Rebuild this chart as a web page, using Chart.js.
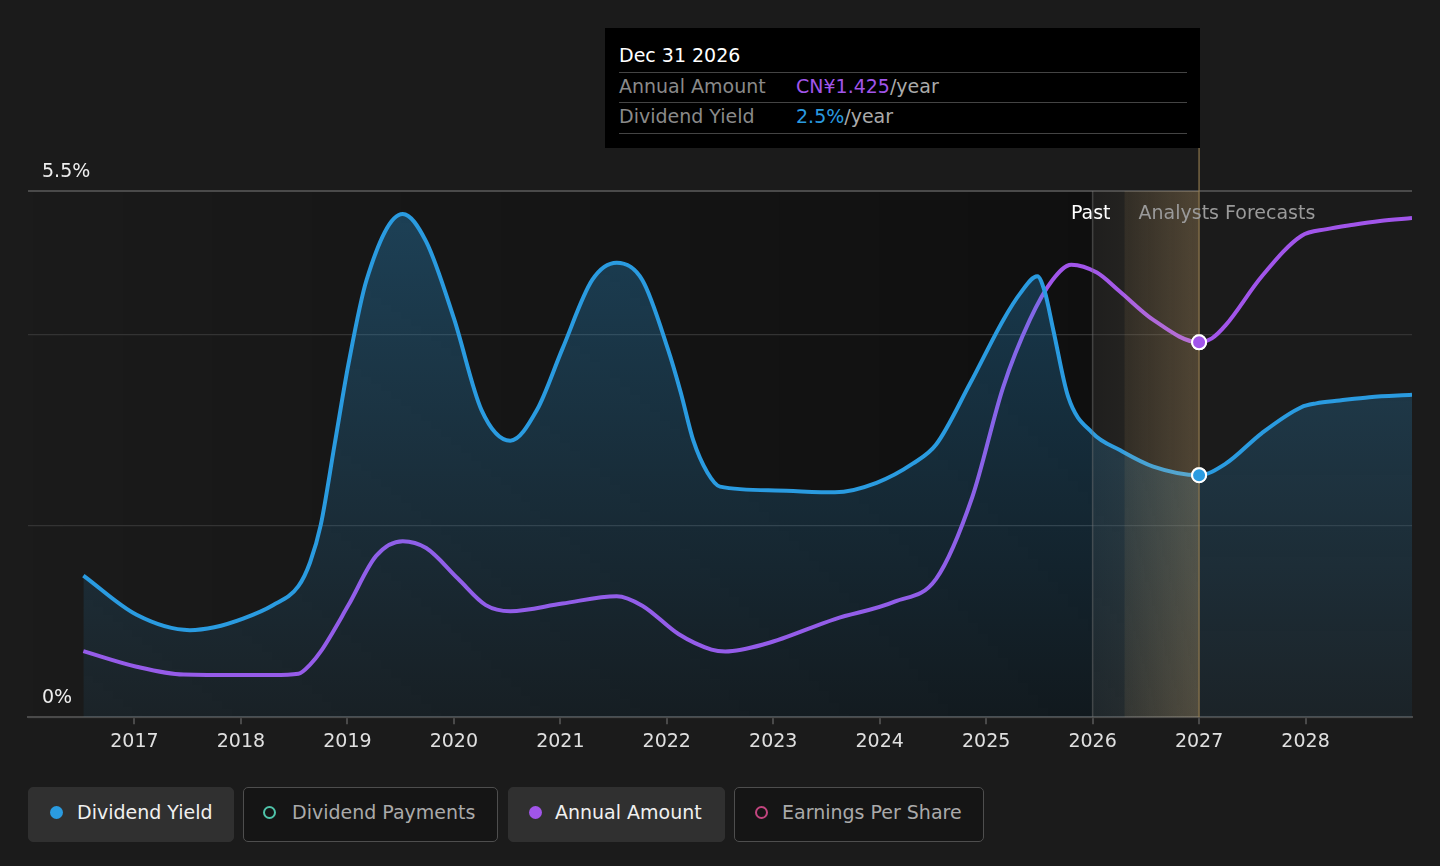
<!DOCTYPE html>
<html>
<head>
<meta charset="utf-8">
<script src="https://cdn.jsdelivr.net/npm/chart.js@4.4.1/dist/chart.umd.min.js"></script>
<style>
  html, body {
    margin: 0;
    padding: 0;
    width: 1440px;
    height: 866px;
    overflow: hidden;
    background: #1b1b1b;
    font-family: 'DejaVu Sans', sans-serif;
  }
  #wrap { position: absolute; left: 0; top: 0; width: 1440px; height: 780px; }
  #tip { position: absolute; left: 605px; top: 28px; width: 595px; height: 120px; background: #000; }
  #tip .row { position: absolute; left: 14px; font-size: 19px; white-space: nowrap; }
  #tip .sep { position: absolute; left: 14px; width: 568px; height: 0; border-top: 1.5px solid #444; }
  #tip .name { color: #8a8a8a; }
  #tip .val { position: absolute; left: 177px; color: #aaa; }
  .legend { position: absolute; top: 787px; height: 55px; box-sizing: border-box; border-radius: 5px;
    font-size: 19px; line-height: 49px; white-space: nowrap; }
  .legend.on { background: #303030; color: #f0f0f0; border: 1px solid #303030; }
  .legend.off { background: #151515; color: #aaa; border: 1.5px solid #4e4e4e; }
  .legend .dot { position: absolute; top: 18px; width: 13px; height: 13px; border-radius: 50%; box-sizing: border-box; }
  .legend .txt { position: absolute; top: 0; }
</style>
</head>
<body>
<div id="wrap"><canvas id="dividendChart"></canvas></div>

<div id="tip">
  <div class="row" style="top:16px;color:#fff;">Dec 31 2026</div>
  <div class="sep" style="top:44px;"></div>
  <div class="row" style="top:47px;"><span class="name">Annual Amount</span><span class="val"><span style="color:#a155ea;">CN¥1.425</span>/year</span></div>
  <div class="sep" style="top:74px;"></div>
  <div class="row" style="top:77px;"><span class="name">Dividend Yield</span><span class="val"><span style="color:#2a9be0;">2.5%</span>/year</span></div>
  <div class="sep" style="top:105px;"></div>
</div>

<div class="legend on" style="left:28px;width:206px;">
  <span class="dot" style="left:21px;background:#2a9be0;"></span><span class="txt" style="left:48px;">Dividend Yield</span>
</div>
<div class="legend off" style="left:243px;width:255px;">
  <span class="dot" style="left:19px;border:2px solid #4fc3a9;"></span><span class="txt" style="left:48px;">Dividend Payments</span>
</div>
<div class="legend on" style="left:508px;width:217px;">
  <span class="dot" style="left:20px;background:#a155ea;"></span><span class="txt" style="left:46px;">Annual Amount</span>
</div>
<div class="legend off" style="left:734px;width:250px;">
  <span class="dot" style="left:20px;border:2px solid #c2457f;"></span><span class="txt" style="left:47px;">Earnings Per Share</span>
</div>

<script>
// dividend yield, %
const yieldYears = [2016.52, 2017.02, 2017.52, 2017.75, 2018.02, 2018.3, 2018.54, 2018.65, 2018.75, 2018.88,
  2019.01, 2019.18, 2019.52, 2019.74, 2020.0, 2020.26, 2020.53, 2020.78, 2021.02, 2021.3,
  2021.53, 2021.77, 2022.01, 2022.13, 2022.25, 2022.38, 2022.5, 2023.02, 2023.58, 2023.97,
  2024.31, 2024.53, 2024.85, 2025.16, 2025.32, 2025.48, 2025.55, 2025.63, 2025.77, 2026.0,
  2026.26, 2026.57, 2027.0, 2027.25, 2027.59, 2027.96, 2028.1, 2028.32, 2028.6, 2029.0];
const yieldValues = [1.48, 1.07, 0.91, 0.94, 1.03, 1.17, 1.37, 1.62, 2.01, 2.85,
  3.69, 4.57, 5.26, 4.97, 4.17, 3.21, 2.89, 3.21, 3.85, 4.57,
  4.75, 4.57, 3.85, 3.4, 2.89, 2.56, 2.41, 2.37, 2.35, 2.45,
  2.65, 2.85, 3.49, 4.15, 4.43, 4.61, 4.45, 4.05, 3.35, 2.97,
  2.79, 2.62, 2.53, 2.65, 2.97, 3.24, 3.28, 3.31, 3.345, 3.37];

// annual amount, CN¥ per year
const amountYears = [2016.52, 2017.02, 2017.46, 2018.0, 2018.3, 2018.54, 2018.65, 2018.75, 2019.01, 2019.27,
  2019.52, 2019.74, 2020.04, 2020.3, 2020.53, 2021.02, 2021.53, 2021.77, 2022.11, 2022.42,
  2022.55, 2022.93, 2023.58, 2024.14, 2024.53, 2024.87, 2025.16, 2025.41, 2025.62, 2025.8,
  2026.04, 2026.25, 2026.57, 2027.0, 2027.12, 2027.25, 2027.59, 2027.96, 2028.2, 2028.45,
  2028.7, 2029.0];
const amountValues = [0.251, 0.192, 0.162, 0.16, 0.16, 0.165, 0.2, 0.25, 0.426, 0.613,
  0.669, 0.643, 0.526, 0.426, 0.403, 0.432, 0.46, 0.424, 0.316, 0.257,
  0.25, 0.279, 0.373, 0.439, 0.526, 0.837, 1.255, 1.51, 1.66, 1.72,
  1.69, 1.62, 1.51, 1.425, 1.44, 1.49, 1.676, 1.829, 1.855, 1.872,
  1.886, 1.897];

const xTickYears = [2017, 2018, 2019, 2020, 2021, 2022, 2023, 2024, 2025, 2026, 2027, 2028];
const yTickValues = [0, 2, 4, 5.5];
const yLabelled = [0, 5.5];

const pastStart = 2026;
const todayYear = 2026.3;
const markYear = 2027;

const BLUE = '#2a9be0';
const PURPLE = '#a155ea';
const TIP_BOTTOM = 148;

const yieldMark = yieldYears.indexOf(markYear);
const amountMark = amountYears.indexOf(markYear);

function blueFill(context) {
  const { chart } = context;
  const a = chart.chartArea;
  if (!a) return 'rgba(42,155,224,0.2)';
  const g = chart.ctx.createLinearGradient(0, a.top, 0, a.bottom);
  g.addColorStop(0, 'rgba(42,155,224,0.32)');
  g.addColorStop(1, 'rgba(42,155,224,0.07)');
  return g;
}

const forecastBand = {
  id: 'forecastBand',
  beforeDraw(chart) {
    const { ctx, chartArea: a, scales: { x } } = chart;
    const xp = x.getPixelForValue(pastStart);
    const g = ctx.createLinearGradient(a.left, 0, xp, 0);
    g.addColorStop(0, 'rgba(0,0,0,0)');
    g.addColorStop(1, 'rgba(0,0,0,0.42)');
    ctx.save();
    ctx.fillStyle = g;
    ctx.fillRect(a.left, a.top, xp - a.left, a.bottom - a.top);
    ctx.restore();
  },
  afterDatasetsDraw(chart) {
    const { ctx, chartArea: a, scales: { x } } = chart;
    const x0 = x.getPixelForValue(pastStart);
    const x1 = x.getPixelForValue(todayYear);
    const x2 = x.getPixelForValue(markYear);
    ctx.save();

    let g = ctx.createLinearGradient(x0, 0, x2, 0);
    g.addColorStop(0, 'rgba(255,225,170,0.02)');
    g.addColorStop(1, 'rgba(255,225,170,0.08)');
    ctx.fillStyle = g;
    ctx.fillRect(x0, a.top, x2 - x0, a.bottom - a.top);

    g = ctx.createLinearGradient(x1, 0, x2, 0);
    g.addColorStop(0, 'rgba(255,200,120,0.07)');
    g.addColorStop(1, 'rgba(255,200,120,0.17)');
    ctx.fillStyle = g;
    ctx.fillRect(x1, a.top, x2 - x1, a.bottom - a.top);

    ctx.lineWidth = 1.5;
    ctx.strokeStyle = 'rgba(120,120,120,0.45)';
    ctx.beginPath();
    ctx.moveTo(x0, a.top);
    ctx.lineTo(x0, a.bottom);
    ctx.stroke();

    ctx.strokeStyle = 'rgba(150,125,80,0.75)';
    ctx.beginPath();
    ctx.moveTo(x2, TIP_BOTTOM);
    ctx.lineTo(x2, a.bottom);
    ctx.stroke();

    ctx.font = '19px "DejaVu Sans", sans-serif';
    ctx.textBaseline = 'middle';
    ctx.textAlign = 'right';
    ctx.fillStyle = '#ffffff';
    ctx.fillText('Past', x1 - 14, a.top + 23);
    ctx.textAlign = 'left';
    ctx.fillStyle = '#9a9a9a';
    ctx.fillText('Analysts Forecasts', x1 + 14, a.top + 23);
    ctx.restore();

    // markers sit above the band
    chart.getDatasetMeta(0).data[yieldMark].draw(ctx, a);
    chart.getDatasetMeta(1).data[amountMark].draw(ctx, a);
  }
};

new Chart(document.getElementById('dividendChart'), {
  type: 'line',
  data: {
    datasets: [{
      label: 'Dividend Yield',
      data: yieldYears.map((x, i) => ({ x, y: yieldValues[i] })),
      yAxisID: 'y',
      borderColor: BLUE,
      borderWidth: 4,
      cubicInterpolationMode: 'monotone',
      fill: 'origin',
      backgroundColor: blueFill,
      pointRadius: (c) => (c.dataIndex === yieldMark ? 7 : 0),
      pointBackgroundColor: BLUE,
      pointBorderColor: '#ffffff',
      pointBorderWidth: 2,
      pointHoverRadius: 0,
    }, {
      label: 'Annual Amount',
      data: amountYears.map((x, i) => ({ x, y: amountValues[i] })),
      yAxisID: 'y2',
      borderColor: PURPLE,
      borderWidth: 4,
      cubicInterpolationMode: 'monotone',
      fill: false,
      pointRadius: (c) => (c.dataIndex === amountMark ? 7 : 0),
      pointBackgroundColor: PURPLE,
      pointBorderColor: '#ffffff',
      pointBorderWidth: 2,
      pointHoverRadius: 0,
    }],
  },
  options: {
    responsive: true,
    maintainAspectRatio: false,
    animation: false,
    events: [],
    layout: { padding: { left: 0, right: 28, top: 191, bottom: 21 } },
    plugins: {
      legend: { display: false },
      tooltip: { enabled: false },
    },
    scales: {
      x: {
        type: 'linear',
        min: 2016,
        max: 2029,
        afterBuildTicks: (axis) => { axis.ticks = xTickYears.map((v) => ({ value: v })); },
        ticks: {
          color: '#e0e0e0',
          font: { family: 'DejaVu Sans', size: 19 },
          padding: 6,
          autoSkip: false,
          maxRotation: 0,
          callback: (v) => String(v),
        },
        grid: { drawOnChartArea: false, drawTicks: true, tickLength: 7, color: '#4a4a4a', lineWidth: 2 },
        border: { display: true, color: '#4a4a4a', width: 2 },
      },
      y: {
        min: 0,
        max: 5.5,
        afterBuildTicks: (axis) => { axis.ticks = yTickValues.map((v) => ({ value: v })); },
        ticks: {
          mirror: true,
          padding: 14,
          labelOffset: -19,
          autoSkip: false,
          color: '#eeeeee',
          font: { family: 'DejaVu Sans', size: 19 },
          callback: (v) => (yLabelled.includes(v) ? v + '%' : ''),
        },
        grid: {
          drawTicks: false,
          color: (c) => (c.tick && c.tick.value === 5.5 ? '#4a4a4a' : '#333333'),
          lineWidth: (c) => (c.tick && c.tick.value === 5.5 ? 2 : 1.2),
        },
        border: { display: false },
      },
      y2: {
        display: false,
        min: 0,
        max: 2.0,
      },
    },
  },
  plugins: [forecastBand],
});
</script>
</body>
</html>
